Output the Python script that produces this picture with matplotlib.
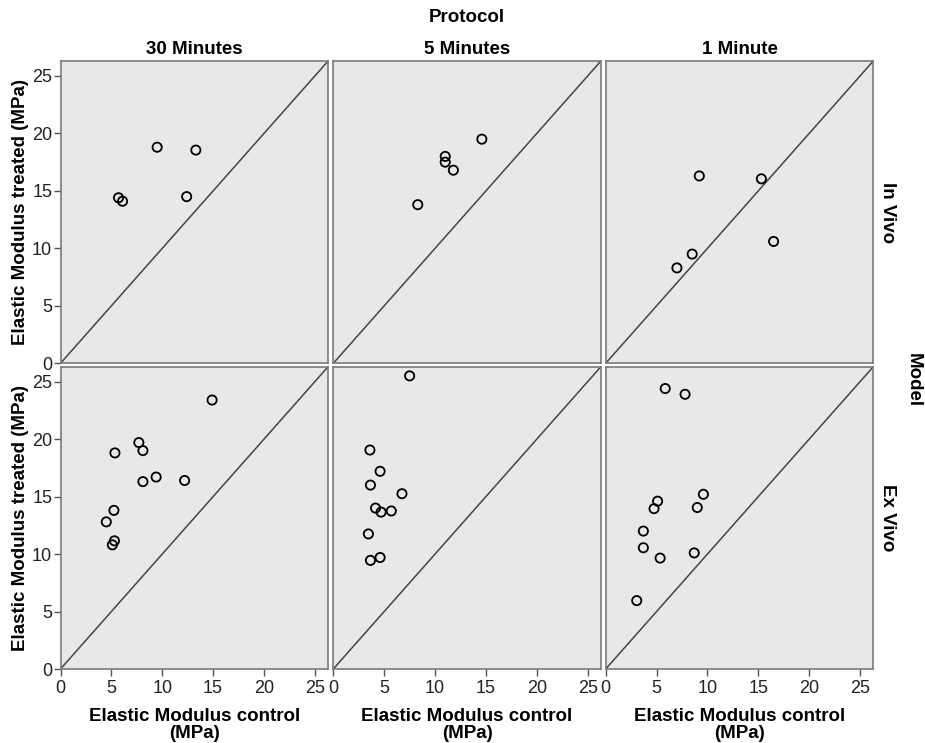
import matplotlib
matplotlib.use("Agg")
import matplotlib.pyplot as plt

plt.rcParams["font.family"] = ["Liberation Sans", "DejaVu Sans"]

protocols = ["30 Minutes", "5 Minutes", "1 Minute"]
models = ["In Vivo", "Ex Vivo"]

# Elastic modulus (MPa): control vs treated, per model / protocol
invivo_30_control = [9.5, 13.3, 5.7, 6.1, 12.4]
invivo_30_treated = [18.8, 18.55, 14.4, 14.1, 14.5]
invivo_5_control = [14.6, 11.0, 11.0, 11.8, 8.3]
invivo_5_treated = [19.5, 18.0, 17.5, 16.8, 13.8]
invivo_1_control = [9.2, 15.3, 16.5, 8.5, 7.0]
invivo_1_treated = [16.3, 16.05, 10.6, 9.5, 8.3]

exvivo_30_control = [14.9, 7.7, 8.1, 5.35, 9.4, 8.1, 12.2, 5.25, 4.5, 5.3, 5.1]
exvivo_30_treated = [23.4, 19.7, 19.0, 18.8, 16.7, 16.3, 16.4, 13.8, 12.8, 11.15, 10.8]
exvivo_5_control = [7.5, 3.6, 4.6, 3.65, 6.75, 4.15, 4.7, 5.7, 3.45, 4.6, 3.65]
exvivo_5_treated = [25.5, 19.05, 17.2, 16.0, 15.25, 14.0, 13.65, 13.75, 11.75, 9.7, 9.45]
exvivo_1_control = [5.85, 7.8, 9.6, 5.1, 4.75, 9.0, 3.7, 3.7, 8.7, 5.35, 3.05]
exvivo_1_treated = [24.4, 23.9, 15.2, 14.6, 13.95, 14.05, 12.0, 10.55, 10.1, 9.65, 5.95]

data = {
    ("In Vivo", "30 Minutes"): (invivo_30_control, invivo_30_treated),
    ("In Vivo", "5 Minutes"): (invivo_5_control, invivo_5_treated),
    ("In Vivo", "1 Minute"): (invivo_1_control, invivo_1_treated),
    ("Ex Vivo", "30 Minutes"): (exvivo_30_control, exvivo_30_treated),
    ("Ex Vivo", "5 Minutes"): (exvivo_5_control, exvivo_5_treated),
    ("Ex Vivo", "1 Minute"): (exvivo_1_control, exvivo_1_treated),
}

ticks = [0, 5, 10, 15, 20, 25]
lim = 26.3

W, H = 925, 743
fig = plt.figure(figsize=(W / 100, H / 100), dpi=100)

col_left = [60.5, 333.3, 605.7]
row_top = [61.0, 366.7]
pw, ph = 267.6, 302.3

edge = "#7a7a7a"
label_fs = 13.5
for r, model in enumerate(models):
    for c, proto in enumerate(protocols):
        ax = fig.add_axes([col_left[c] / W, 1 - (row_top[r] + ph) / H, pw / W, ph / H])
        ax.set_facecolor("#e8e8e8")
        ax.set_xlim(0, lim)
        ax.set_ylim(0, lim)
        ax.plot([0, lim], [0, lim], color="#444444", lw=1.1, zorder=2)
        x, y = data[(model, proto)]
        ax.scatter(x, y, s=44, facecolors="none", edgecolors="black", linewidths=1.3, zorder=3)
        for s in ax.spines.values():
            s.set_color(edge)
            s.set_linewidth(1.2)
        ax.set_xticks(ticks)
        ax.set_yticks(ticks)
        ax.tick_params(direction="out", length=5, width=1, color="#555555",
                       labelsize=13, labelcolor="#222222", pad=1)
        ax.tick_params(axis="x", pad=3)
        if c != 0:
            ax.tick_params(axis="y", left=False, labelleft=False)
        else:
            ax.set_ylabel("Elastic Modulus treated (MPa)", fontsize=label_fs,
                          fontweight="bold", labelpad=2)
        if r != 1:
            ax.tick_params(axis="x", bottom=False, labelbottom=False)
            ax.set_title(proto, fontsize=label_fs, fontweight="bold", pad=5)
        else:
            ax.set_xlabel("Elastic Modulus control\n(MPa)", fontsize=label_fs,
                          fontweight="bold", labelpad=8, linespacing=1.0)
        if c == 2:
            ax.text(1.02, 0.5, model, transform=ax.transAxes, rotation=-90,
                    ha="left", va="center", fontsize=label_fs, fontweight="bold")

fig.text((col_left[1] + pw / 2) / W, 1 - 18 / H, "Protocol", ha="center", va="center",
         fontsize=label_fs, fontweight="bold")
fig.text(913 / W, 1 - 380 / H, "Model", ha="center", va="center", rotation=-90,
         fontsize=label_fs, fontweight="bold")

fig.savefig("out.png", dpi=100, facecolor="white")
